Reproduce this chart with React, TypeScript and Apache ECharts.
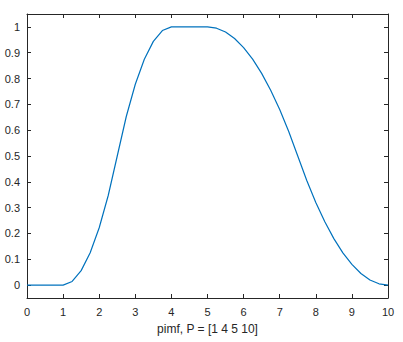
import React, { useEffect, useRef } from "react";
import * as echarts from "echarts";

const xValues = [0, 0.5, 1, 1.25, 1.5, 1.75, 2, 2.25, 2.5, 2.75, 3, 3.25, 3.5, 3.75, 4, 4.5, 5, 5.25, 5.5, 5.75, 6, 6.25, 6.5, 6.75, 7, 7.25, 7.5, 7.75, 8, 8.25, 8.5, 8.75, 9, 9.25, 9.5, 9.75, 10];
const yValues = [0, 0, 0, 0.014, 0.056, 0.125, 0.222, 0.347, 0.5, 0.653, 0.778, 0.875, 0.944, 0.986, 1, 1, 1, 0.995, 0.98, 0.955, 0.92, 0.875, 0.82, 0.755, 0.68, 0.595, 0.5, 0.405, 0.32, 0.245, 0.18, 0.125, 0.08, 0.045, 0.02, 0.005, 0];
const yTicks = [0, 0.1, 0.2, 0.3, 0.4, 0.5, 0.6, 0.7, 0.8, 0.9, 1];
const xTicks = [0, 1, 2, 3, 4, 5, 6, 7, 8, 9, 10];
const xLabel = "pimf, P = [1 4 5 10]";

const axisColor = "#262626";
const font = "'Liberation Sans', Arial, Helvetica, sans-serif";

export default function App() {
  const ref = useRef<HTMLDivElement>(null);
  useEffect(() => {
    if (!ref.current) return;
    const chart = echarts.init(ref.current, null, { renderer: "svg" });
    const axisLine = { show: true, onZero: false, lineStyle: { color: axisColor, width: 1 } };
    chart.setOption({
      animation: false,
      backgroundColor: "#ffffff",
      grid: { left: 27, right: 15, top: 14, bottom: 44, containLabel: false },
      xAxis: [
        {
          type: "value",
          min: 0,
          max: 10,
          interval: 1,
          position: "bottom",
          axisLine,
          axisTick: { show: true, inside: true, length: 4, lineStyle: { color: axisColor } },
          axisLabel: { show: true, color: axisColor, fontSize: 11, fontFamily: font, margin: 8, customValues: xTicks },
          splitLine: { show: false },
          name: xLabel,
          nameLocation: "middle",
          nameGap: 25,
          nameTextStyle: { color: axisColor, fontSize: 12, fontFamily: font },
        },
        {
          type: "value",
          min: 0,
          max: 10,
          interval: 1,
          position: "top",
          axisLine,
          axisTick: { show: true, inside: true, length: 4, lineStyle: { color: axisColor } },
          axisLabel: { show: false },
          splitLine: { show: false },
        },
      ],
      yAxis: [
        {
          type: "value",
          min: -0.05,
          max: 1.05,
          position: "left",
          axisLine,
          axisTick: { show: true, inside: true, length: 4, customValues: yTicks, lineStyle: { color: axisColor } },
          axisLabel: { show: true, color: axisColor, fontSize: 11, fontFamily: font, margin: 7, customValues: yTicks },
          splitLine: { show: false },
        },
        {
          type: "value",
          min: -0.05,
          max: 1.05,
          position: "right",
          axisLine,
          axisTick: { show: true, inside: true, length: 4, customValues: yTicks, lineStyle: { color: axisColor } },
          axisLabel: { show: false },
          splitLine: { show: false },
        },
      ],
      series: [
        {
          type: "line",
          data: xValues.map((x, i) => [x, yValues[i]]),
          showSymbol: false,
          smooth: false,
          lineStyle: { color: "#0072BD", width: 1.2 },
          xAxisIndex: 0,
          yAxisIndex: 0,
        },
      ],
    });
    return () => chart.dispose();
  }, []);
  return <div ref={ref} style={{ width: 403, height: 342, position: "absolute", left: 0, top: 0 }} />;
}
